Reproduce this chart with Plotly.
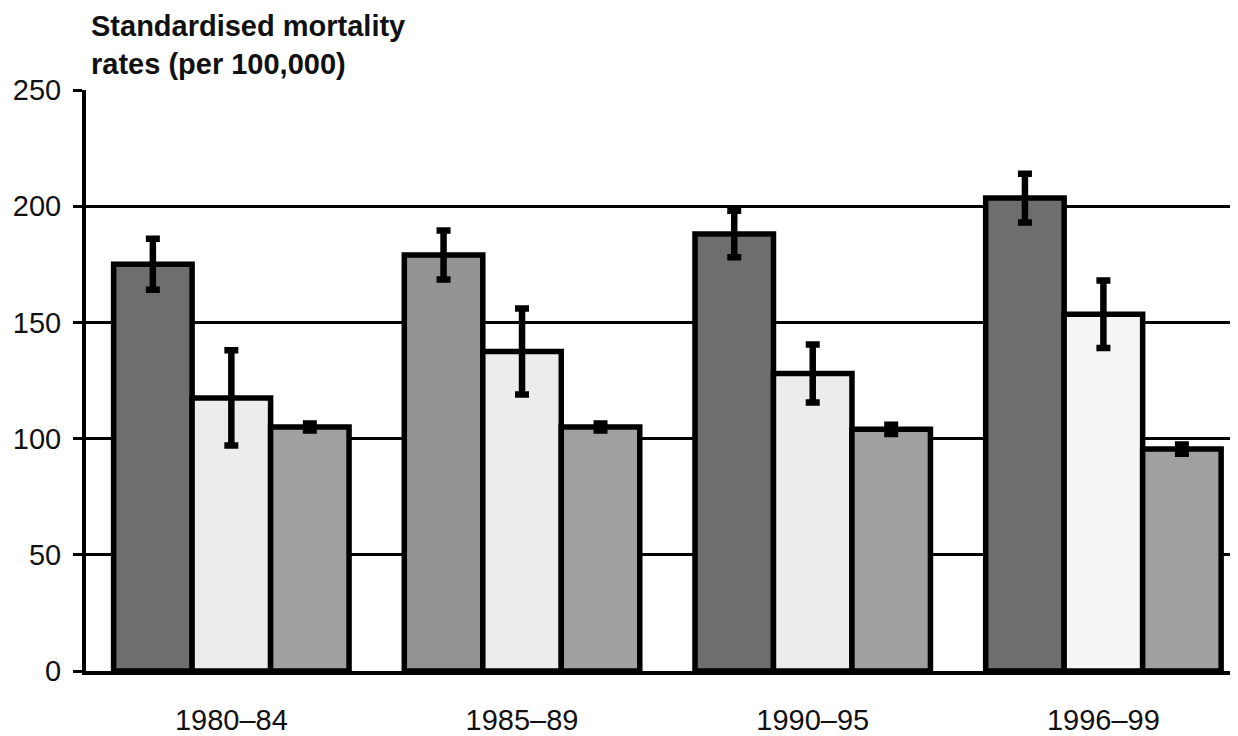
import plotly.graph_objects as go

periods = ["1980\u201384", "1985\u201389", "1990\u201395", "1996\u201399"]

series_a = [175, 179, 188, 203.5]
series_a_err = [11, 10.5, 10, 10.5]
series_a_colors = ["#6e6e6e", "#939393", "#6e6e6e", "#6e6e6e"]

series_b = [117.5, 137.5, 128, 153.5]
series_b_err = [20.5, 18.5, 12.5, 14.5]
series_b_colors = ["#ececec", "#ececec", "#ececec", "#f5f5f5"]

series_c = [105, 105, 104, 95.5]
series_c_err = [1.5, 1.5, 2, 2]
series_c_colors = ["#a0a0a0", "#a0a0a0", "#a0a0a0", "#a0a0a0"]

y_ticks = [0, 50, 100, 150, 200, 250]

fig = go.Figure()
for name, vals, errs, cols in [
    ("A", series_a, series_a_err, series_a_colors),
    ("B", series_b, series_b_err, series_b_colors),
    ("C", series_c, series_c_err, series_c_colors),
]:
    fig.add_trace(go.Bar(
        x=periods, y=vals, name=name,
        marker=dict(color=cols, line=dict(color="black", width=5.5)),
        error_y=dict(type="data", array=errs, visible=True,
                     color="black", thickness=6.5, width=7),
    ))

tick_font = dict(family="Liberation Sans, Arial, sans-serif", size=29, color="#111111")

# page body has an 8px margin, so the figure is sized/offset to compensate
fig.update_layout(
    width=1230, height=728,
    margin=dict(l=78, r=0, t=82, b=62),
    paper_bgcolor="white", plot_bgcolor="white",
    barmode="group", bargap=0.19, bargroupgap=0,
    showlegend=False,
    xaxis=dict(
        range=[-0.5, 3.463], showgrid=False,
        showline=True, linecolor="black", linewidth=4,
        ticks="", tickfont=tick_font, ticklabelstandoff=20,
    ),
    yaxis=dict(
        range=[0, 250], tickvals=y_ticks,
        showgrid=True, gridcolor="black", gridwidth=3,
        zeroline=False,
        showline=True, linecolor="black", linewidth=4,
        ticks="outside", ticklen=9, tickwidth=3, tickcolor="black",
        tickfont=tick_font, ticklabelstandoff=6,
    ),
    annotations=[dict(
        text="<b>Standardised mortality<br>rates (per 100,000)</b>",
        xref="paper", yref="paper", x=0.003, y=1.0, yshift=8,
        xanchor="left", yanchor="bottom", align="left", showarrow=False,
        font=dict(family="Liberation Sans, Arial, sans-serif", size=29, color="#111111"),
    )],
)

fig.write_html("out.html")
